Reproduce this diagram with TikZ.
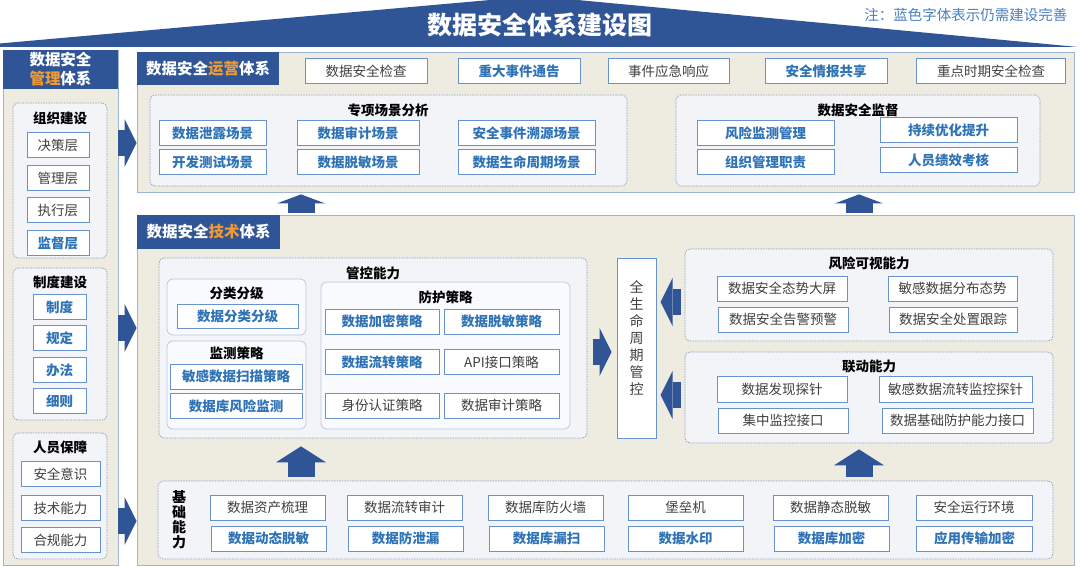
\documentclass[tikz,border=0pt]{standalone}
\usepackage{fontspec}
\setmainfont{Noto Sans CJK SC}
\usetikzlibrary{positioning,arrows.meta}
\definecolor{navy}{HTML}{2F5597}
\definecolor{beige}{HTML}{EEEBE0}
\definecolor{panelline}{HTML}{9CB4D6}
\definecolor{grpfill}{HTML}{F3F4F8}
\definecolor{grpline}{HTML}{8FA3C0}
\definecolor{subfill}{HTML}{F9FAFD}
\definecolor{subline}{HTML}{B9C9E2}
\definecolor{boxline}{HTML}{6892CC}
\definecolor{bluetxt}{HTML}{2F73B7}
\definecolor{graytxt}{HTML}{404040}
\definecolor{orangec}{HTML}{F39A2E}
\definecolor{notetxt}{HTML}{4A80C0}

\begin{document}
\begin{tikzpicture}[
  x=1pt, y=-1pt,
  font=\fontsize{13.5}{16}\selectfont, text=graytxt,
  panel/.style={draw=panelline, fill=beige, line width=0.8pt, inner sep=0pt},
  head/.style={fill=navy, text=white, inner sep=0pt, align=center, font=\bfseries\fontsize{15.5}{19}\selectfont},
  grp/.style={draw=grpline, fill=grpfill, dash pattern=on 1.6pt off 1pt, line width=0.7pt, rounded corners=5pt, inner sep=0pt},
  sub/.style={draw=subline, fill=subfill, line width=0.8pt, rounded corners=6pt, inner sep=0pt},
  item/.style={draw=boxline, fill=white, line width=1pt, inner sep=0pt, minimum height=25pt},
  todo/.style={item, text=bluetxt, font=\bfseries\fontsize{13.5}{16}\selectfont},
  ttl/.style={text=black, inner sep=0pt, font=\bfseries\fontsize{13.5}{16}\selectfont},
  rblk/.style={draw=navy, line width=26pt, -{Triangle[width=48pt,length=12pt,line width=0pt]}},
  upblk/.style={draw=navy, line width=27pt, -{Triangle[width=48pt,length=9pt,line width=0pt]}},
  upblkb/.style={draw=navy, line width=27pt, -{Triangle[width=50pt,length=16pt,line width=0pt]}}
]
\fill[white] (0,0) rectangle (1080,567);
\useasboundingbox (0,0) rectangle (1080,567);

\fill[navy] (-40,47) -- (535,-4) -- (1078,47) -- cycle;
\node[text=white, font=\bfseries\fontsize{25}{28}\selectfont] (title) at (540,25) {数据安全体系建设图};
\node[anchor=east, text=notetxt, font=\fontsize{14.5}{16}\selectfont] (note) at (1071,15) {注：蓝色字体表示仍需建设完善};

\node[panel, minimum width=115pt, minimum height=515pt] (mgmt) at (60.5,307.5) {};
\node[head, minimum width=115pt, minimum height=39pt] (mgmthead) at (60.5,69.5) {数据安全\\{\color{orangec}管理}体系};

\node[grp, minimum width=94pt, minimum height=155pt] (org) at (60,180.5) {};
\node[ttl] (orgt) at (60,118) {组织建设};
\node[item, minimum width=62pt] (tier1) at (58,145) {决策层};
\node[item, minimum width=62pt] (tier2) at (58,178) {管理层};
\node[item, minimum width=62pt] (tier3) at (58,210) {执行层};
\node[todo, minimum width=62pt] (tier4) at (58,243) {监督层};

\node[grp, minimum width=94pt, minimum height=152pt] (rule) at (60,344) {};
\node[ttl] (rulet) at (60,282) {制度建设};
\node[todo, minimum width=53pt] (rule1) at (59.5,307) {制度};
\node[todo, minimum width=53pt] (rule2) at (59.5,338) {规定};
\node[todo, minimum width=53pt] (rule3) at (59.5,370) {办法};
\node[todo, minimum width=53pt] (rule4) at (59.5,401) {细则};

\node[grp, minimum width=94pt, minimum height=126pt] (staff) at (60,496) {};
\node[ttl] (stafft) at (60,447) {人员保障};
\node[item, minimum width=79pt] (skill1) at (60.5,474) {安全意识};
\node[item, minimum width=79pt] (skill2) at (60.5,508) {技术能力};
\node[item, minimum width=79pt] (skill3) at (60.5,540) {合规能力};

\node[panel, minimum width=937pt, minimum height=140pt] (ops) at (605.5,122) {};
\node[head, minimum width=142pt, minimum height=33pt] (opshead) at (208,68.5) {数据安全{\color{orangec}运营}体系};
\node[item, minimum width=122pt] (chk) at (366,71.5) {数据安全检查};
\node[todo, minimum width=122pt] (notice) at (519,71.5) {重大事件通告};
\node[item, minimum width=121pt] (resp) at (668.5,71.5) {事件应急响应};
\node[todo, minimum width=122pt] (intel) at (826,71.5) {安全情报共享};
\node[item, minimum width=149pt] (keychk) at (991,71.5) {重点时期安全检查};

\node[grp, minimum width=477pt, minimum height=91pt] (scen) at (388.5,140.5) {};
\node[ttl] (scent) at (388,110) {专项场景分析};
\node[todo, minimum width=107pt] (leak) at (212.5,133.5) {数据泄露场景};
\node[todo, minimum width=107pt] (devtest) at (212.5,162.5) {开发测试场景};
\node[todo, minimum width=122pt] (audit) at (358,133.5) {数据审计场景};
\node[todo, minimum width=122pt] (mask) at (358,162.5) {数据脱敏场景};
\node[todo, minimum width=137pt] (trace) at (526.5,133.5) {安全事件溯源场景};
\node[todo, minimum width=137pt] (cycle) at (526.5,162.5) {数据生命周期场景};

\node[grp, minimum width=364pt, minimum height=91pt] (sup) at (858,140.5) {};
\node[ttl] (supt) at (858,110) {数据安全监督};
\node[todo, minimum width=137pt] (riskmon) at (765.5,133.5) {风险监测管理};
\node[todo, minimum width=137pt] (duty) at (765.5,162.5) {组织管理职责};
\node[todo, minimum width=137pt] (improve) at (948.5,130.5) {持续优化提升};
\node[todo, minimum width=137pt] (kpi) at (948.5,160) {人员绩效考核};

\node[panel, minimum width=937pt, minimum height=350pt] (tech) at (605.5,390) {};
\node[head, minimum width=143pt, minimum height=34pt] (techhead) at (208.5,232) {数据安全{\color{orangec}技术}体系};

\node[grp, minimum width=428pt, minimum height=180pt] (ctrl) at (373,348) {};
\node[ttl] (ctrlt) at (373,273) {管控能力};
\node[sub, minimum width=139pt, minimum height=56pt] (cls) at (236.5,307) {};
\node[ttl] (clst) at (236.5,293) {分类分级};
\node[todo, minimum width=121pt, minimum height=24pt] (clsbox) at (237.5,316) {数据分类分级};
\node[sub, minimum width=139pt, minimum height=88pt] (mon) at (236.5,385) {};
\node[ttl] (mont) at (236.5,353) {监测策略};
\node[todo, minimum width=132pt] (scan) at (236,376.5) {敏感数据扫描策略};
\node[todo, minimum width=132pt] (dbmon) at (236,406) {数据库风险监测};
\node[sub, minimum width=249pt, minimum height=147pt] (prot) at (445.5,355.5) {};
\node[ttl] (prott) at (445.5,297) {防护策略};
\node[todo, minimum width=114pt] (enc) at (382,321.5) {数据加密策略};
\node[todo, minimum width=115pt] (desens) at (501.5,321.5) {数据脱敏策略};
\node[todo, minimum width=114pt] (xfer) at (382,362) {数据流转策略};
\node[item, minimum width=115pt] (api) at (501.5,362) {API接口策略};
\node[item, minimum width=114pt] (auth) at (382,405.5) {身份认证策略};
\node[item, minimum width=115pt] (dbaudit) at (501.5,405.5) {数据审计策略};

\node[item, minimum width=39pt, minimum height=180pt, align=center, text depth=20pt, font=\fontsize{14}{17}\selectfont] (life) at (636.5,348) {全\\生\\命\\周\\期\\管\\控};

\node[grp, minimum width=368pt, minimum height=92pt] (risk) at (869,295) {};
\node[ttl] (riskt) at (869,263) {风险可视能力};
\node[item, minimum width=130pt] (screen) at (782,288.5) {数据安全态势大屏};
\node[item, minimum width=129pt] (dist) at (952.5,288.5) {敏感数据分布态势};
\node[item, minimum width=130pt] (alarm) at (783,319.5) {数据安全告警预警};
\node[item, minimum width=128pt] (track) at (953,319.5) {数据安全处置跟踪};

\node[grp, minimum width=368pt, minimum height=91pt] (link) at (869,397.5) {};
\node[ttl] (linkt) at (869,366) {联动能力};
\node[item, minimum width=130pt, minimum height=26pt] (probe) at (782,389) {数据发现探针};
\node[item, minimum width=153pt, minimum height=26pt] (flowprobe) at (955.5,389) {敏感数据流转监控探针};
\node[item, minimum width=130pt] (central) at (783,420.5) {集中监控接口};
\node[item, minimum width=151pt] (baseif) at (957.5,420.5) {数据基础防护能力接口};

\node[grp, minimum width=895pt, minimum height=78pt] (base) at (605.5,520) {};
\node[ttl, align=center, font=\bfseries\fontsize{14}{15}\selectfont] (baset) at (179,520) {基\\础\\能\\力};
\node[item, minimum width=115pt] (asset) at (267.5,507.5) {数据资产梳理};
\node[item, minimum width=115pt] (flowaudit) at (404.5,507.5) {数据流转审计};
\node[item, minimum width=115pt] (dbfw) at (545.5,507.5) {数据库防火墙};
\node[item, minimum width=115pt] (bastion) at (685.5,507.5) {堡垒机};
\node[item, minimum width=115pt] (staticmask) at (830.5,507.5) {数据静态脱敏};
\node[item, minimum width=116pt] (runenv) at (974,507.5) {安全运行环境};
\node[todo, minimum width=115pt] (dynmask) at (268.5,538.5) {数据动态脱敏};
\node[todo, minimum width=115pt] (dlp) at (405.5,538.5) {数据防泄漏};
\node[todo, minimum width=115pt] (dbscan) at (546.5,538.5) {数据库漏扫};
\node[todo, minimum width=115pt] (wmark) at (685.5,538.5) {数据水印};
\node[todo, minimum width=115pt] (dbenc) at (831.5,538.5) {数据库加密};
\node[todo, minimum width=116pt] (appenc) at (974.5,538.5) {应用传输加密};

\coordinate (ua) at (301,0);
\coordinate (ub) at (859,0);
\coordinate (ra) at (0,143);
\coordinate (rb) at (0,328);
\coordinate (rc) at (0,521);
\coordinate (la) at (0,302);
\coordinate (lb) at (0,395);
\coordinate (lc) at (0,352);

\draw[rblk] (mgmt.east |- ra) -- (ops.west |- ra);
\draw[rblk] (mgmt.east |- rb) -- (tech.west |- rb);
\draw[rblk] (mgmt.east |- rc) -- (tech.west |- rc);
\draw[upblk, shorten <=2pt, shorten >=2pt] (tech.north -| ua) -- (ops.south -| ua);
\draw[upblk, shorten <=2pt, shorten >=2pt] (tech.north -| ub) -- (ops.south -| ub);
\draw[upblkb, shorten <=4pt, shorten >=8pt] (base.north -| ua) -- (ctrl.south -| ua);
\draw[upblkb, shorten <=4pt, shorten >=6pt] (base.north -| ub) -- (link.south -| ub);
\draw[rblk, shorten <=6pt, shorten >=5pt] (ctrl.east |- lc) -- (life.west |- lc);
\draw[rblk, shorten <=4pt, shorten >=4pt] (risk.west |- la) -- (life.east |- la);
\draw[rblk, shorten <=4pt, shorten >=4pt] (link.west |- lb) -- (life.east |- lb);
\end{tikzpicture}
\end{document}
